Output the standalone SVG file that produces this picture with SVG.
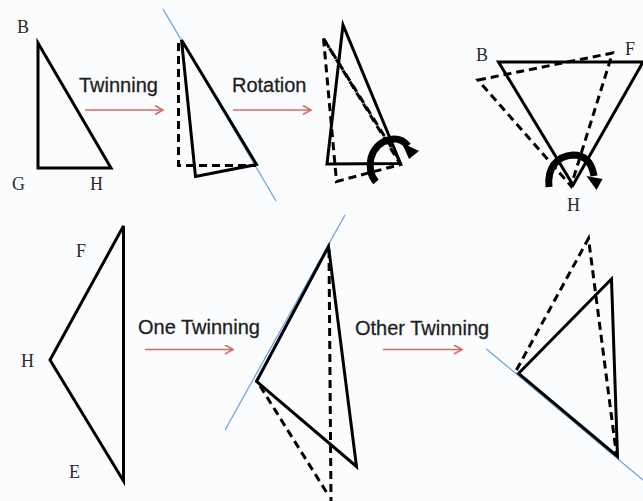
<svg xmlns="http://www.w3.org/2000/svg" width="643" height="501" viewBox="0 0 643 501">
<defs>
<style>
.s{fill:none;stroke:#000;stroke-width:3;stroke-linejoin:miter;stroke-linecap:square}
.d{fill:none;stroke:#000;stroke-width:3;stroke-dasharray:8 5}
.b{fill:none;stroke:#6a9fd8;stroke-width:1.2}
.rot{fill:none;stroke:#000;stroke-width:7}
.lab{font-family:"Liberation Serif",serif;font-size:18px;fill:#2a2a2a}
.cap{font-family:"Liberation Sans",Arial,sans-serif;font-size:20px;fill:#1e1e1e;stroke:#1e1e1e;stroke-width:0.3}
.ar{fill:none;stroke:#cc6e66;stroke-width:1.6}
</style>
<marker id="ah" markerWidth="12" markerHeight="12" refX="9" refY="5" orient="auto" markerUnits="userSpaceOnUse">
<path d="M1,0.5 L9,5 L1,9.5" fill="none" stroke="#cc6e66" stroke-width="1.6"/>
</marker>
</defs>
<rect width="643" height="501" fill="#fbfcfe"/>

<g id="fig-bgh">
<polygon class="s" points="38,43 38,168 111,168"/>
<text class="lab" x="17" y="33">B</text>
<text class="lab" x="12" y="190">G</text>
<text class="lab" x="90" y="190">H</text>
</g>

<g id="fig-twinned">
<line class="b" x1="163" y1="9" x2="276" y2="201"/>
<polyline class="d" points="178.5,43 178.5,165.5 256,165.5"/>
<polygon class="s" points="181.5,40 195.5,176.5 256.5,164.5"/>
</g>

<g id="fig-rotated">
<polygon class="s" points="343,25 327,164 400.5,163.5"/>
<polygon class="d" points="323.5,38.5 336.5,181.5 400.5,164.5"/>
<line class="d" x1="325" y1="41" x2="400" y2="161"/>
<path class="rot" d="M376,182 C365,170 369,144 390,139.5 C398,138 404,141 408,146"/>
<polygon points="402,143 419,151 409,159" fill="#000"/>
</g>

<g id="fig-bfh">
<polygon class="s" points="498.5,62 643,62 573,185"/>
<polygon class="d" points="478,80 612.5,53 571,186"/>
<path class="rot" d="M549,187 C547,168 557,156 573,155 C586,155 592,164 594,176"/>
<polygon points="586.5,176 602.5,179 596.5,190" fill="#000"/>
<text class="lab" x="476" y="61">B</text>
<text class="lab" x="625" y="55">F</text>
<text class="lab" x="567" y="211">H</text>
</g>

<g id="fig-fhe">
<polygon class="s" points="123.5,226 50,360 123.5,481"/>
<text class="lab" x="76" y="257">F</text>
<text class="lab" x="21" y="367">H</text>
<text class="lab" x="69" y="478">E</text>
</g>

<g id="fig-one-twinning">
<line class="b" x1="345" y1="215" x2="225" y2="430"/>
<polyline class="d" points="329,250 331,501"/>
<polyline class="d" points="260,386 327,493"/>
<polygon class="s" points="328.5,246.5 256.5,381.5 356.5,466.5"/>
</g>

<g id="fig-other-twinning">
<line class="b" x1="486.5" y1="349" x2="643" y2="480"/>
<polyline class="d" points="516.5,370 588.5,238.5 616.5,455"/>
<polygon class="s" points="518.5,373.5 611.5,279 617.5,456.5"/>
</g>

<g id="connectors">
<line class="ar" x1="85" y1="110" x2="163" y2="110" marker-end="url(#ah)"/>
<text class="cap" x="79" y="92">Twinning</text>
<line class="ar" x1="233" y1="110" x2="311" y2="110" marker-end="url(#ah)"/>
<text class="cap" x="232" y="92">Rotation</text>
<line class="ar" x1="145" y1="349.5" x2="233" y2="349.5" marker-end="url(#ah)"/>
<text class="cap" x="138" y="334">One Twinning</text>
<line class="ar" x1="383" y1="349.5" x2="462" y2="349.5" marker-end="url(#ah)"/>
<text class="cap" x="355" y="335">Other Twinning</text>
</g>
</svg>
